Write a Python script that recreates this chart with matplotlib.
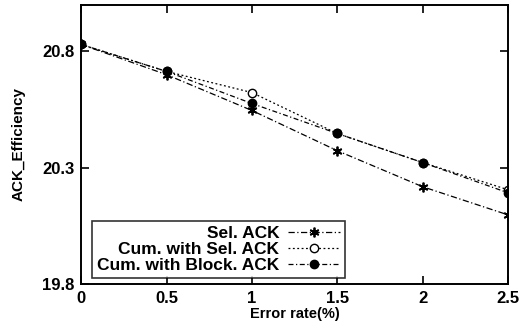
import matplotlib.pyplot as plt

# datos
error_rate = [0, 0.5, 1, 1.5, 2, 2.5]
sel_ack = [20.83, 20.70, 20.546, 20.373, 20.218, 20.097]
cum_sel_ack = [20.83, 20.714, 20.623, 20.447, 20.322, 20.205]
cum_block_ack = [20.83, 20.714, 20.576, 20.447, 20.322, 20.192]

x_ticks = [0, 0.5, 1, 1.5, 2, 2.5]
y_ticks = [19.8, 20.3, 20.8]

plt.rcParams['font.family'] = ['Liberation Sans', 'DejaVu Sans']
plt.rcParams['font.weight'] = 'bold'

fig = plt.figure(figsize=(5.2, 3.26), dpi=100)
ax = fig.add_axes([0.156, 0.129, 0.821, 0.856])

ax.plot(error_rate, sel_ack, color='black', lw=0.9, dashes=[5, 2, 1, 2],
        marker=(6, 2, 0), ms=7, mew=1.3, label='Sel. ACK')
ax.plot(error_rate, cum_sel_ack, color='black', lw=0.9, dashes=[1.5, 2],
        marker='o', ms=6, mfc='white', mew=1.0, label='Cum. with Sel. ACK')
ax.plot(error_rate, cum_block_ack, color='black', lw=0.9, dashes=[4, 2, 1, 2],
        marker='o', ms=6, mfc='black', label='Cum. with Block. ACK')

ax.set_xlim(0, 2.5)
ax.set_ylim(19.8, 21.0)
ax.set_xticks(x_ticks)
ax.set_xticklabels(['0', '0.5', '1', '1.5', '2', '2.5'])
ax.set_yticks(y_ticks)
ax.set_yticklabels(['19.8', '20.3', '20.8'])
ax.tick_params(direction='in', top=True, right=True, length=6, width=1.2,
               labelsize=12, pad=5)
for s in ax.spines.values():
    s.set_linewidth(1.4)

ax.set_xlabel('Error rate(%)', fontsize=10.5, fontweight='bold', labelpad=1)
ax.set_ylabel('ACK_Efficiency', fontsize=11, fontweight='bold', labelpad=12)

leg = ax.legend(loc='lower left', bbox_to_anchor=(0.025, 0.02), fontsize=12.5,
                markerfirst=False, frameon=True, fancybox=False, handlelength=3.0,
                borderpad=0.3, labelspacing=0.05, handletextpad=0.5, borderaxespad=0)
leg.get_frame().set_edgecolor('black')
leg.get_frame().set_linewidth(1.2)
for t in leg.get_texts():
    t.set_ha('right')
leg._legend_box.align = 'right'

fig.savefig('out.png', dpi=100)
